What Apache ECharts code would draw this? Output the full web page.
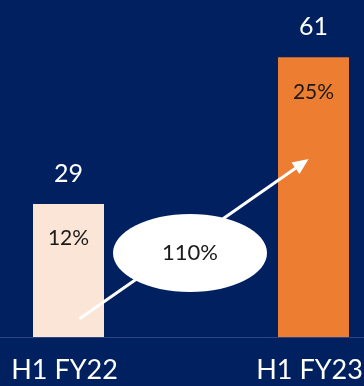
<!DOCTYPE html>
<html>
<head>
<meta charset="utf-8">
<script src="https://cdn.jsdelivr.net/npm/echarts@6/dist/echarts.min.js"></script>
<style>
  html, body { margin: 0; padding: 0; background: #002060; }
  #chart { width: 364px; height: 386px; }
</style>
</head>
<body>
<div id="chart"></div>
<script>
// Half-year values and their shares
const categories = ['H1 FY22', 'H1 FY23'];
const values = [29, 61];
const shares = ['12%', '25%'];
const growthLabel = '110%';
const barColors = ['#FBE5D6', '#ED7D31'];

const FONT = 'Lato, "Open Sans", sans-serif';
const chart = echarts.init(document.getElementById('chart'));

// Bars sit at positions 0 and 1 of a numeric x axis so the periods can be
// placed near the edges of the canvas.
const positions = categories.map((_, i) => i);
const points = values.map((v, i) => [positions[i], v]);

const option = {
  backgroundColor: '#002060',
  animation: false,
  grid: { left: 0, right: 0, top: 16, bottom: 49, containLabel: false, outerBoundsMode: 'none' },
  xAxis: {
    type: 'value',
    min: -0.2796,
    max: 1.2061,
    splitLine: { show: false },
    axisLine: { show: true, onZero: false, lineStyle: { color: '#2B4682', width: 1 } },
    axisTick: { show: false },
    axisLabel: {
      customValues: positions,
      formatter: v => categories[Math.round(v)],
      color: '#FFFFFF', fontSize: 27, fontFamily: FONT, margin: 20,
      padding: [0, 8, 0, 0]
    }
  },
  yAxis: { type: 'value', min: 0, max: 70, show: false, splitLine: { show: false } },
  series: [
    {
      type: 'bar',
      barWidth: 71,
      data: points.map((p, i) => ({ value: p, itemStyle: { color: barColors[i] } })),
      label: {
        show: true, position: 'top', distance: 18,
        color: '#FFFFFF', fontSize: 25, fontFamily: FONT,
        formatter: p => p.value[1]
      }
    },
    {
      type: 'bar',
      barWidth: 71,
      barGap: '-100%',
      data: points,
      itemStyle: { color: 'rgba(0,0,0,0)' },
      label: {
        show: true, position: 'insideTop', distance: 24,
        color: '#1A1A1A', fontSize: 21, fontFamily: FONT,
        formatter: p => shares[p.dataIndex]
      }
    }
  ]
};
chart.setOption(option);

// Growth arrow and ellipse callout anchored to the axis scale
const toPx = (x, y) => chart.convertToPixel({ gridIndex: 0 }, [x, y]);
const start = toPx(0.045, 4);
const end = toPx(0.98, 38.8);
const mid = toPx(0.5, 18.3);
const ang = Math.atan2(end[1] - start[1], end[0] - start[0]);
const head = 16, hw = 7;
const bx = end[0] - head * Math.cos(ang), by = end[1] - head * Math.sin(ang);
chart.setOption({
  graphic: [
    { type: 'line', shape: { x1: start[0], y1: start[1], x2: bx, y2: by },
      style: { stroke: '#FFFFFF', lineWidth: 3 }, z: 10 },
    { type: 'polygon', shape: { points: [
        end,
        [bx + hw * Math.sin(ang), by - hw * Math.cos(ang)],
        [bx - hw * Math.sin(ang), by + hw * Math.cos(ang)]
      ] }, style: { fill: '#FFFFFF' }, z: 10 },
    { type: 'ellipse', shape: { cx: mid[0] - 1, cy: mid[1], rx: 77, ry: 39 },
      style: { fill: '#FFFFFF' }, z: 11 },
    { type: 'text', x: mid[0] - 1, y: mid[1], z: 12,
      style: { text: growthLabel, fill: '#1A1A1A', font: '22px ' + FONT,
               textAlign: 'center', textVerticalAlign: 'middle' } }
  ]
});
</script>
</body>
</html>
